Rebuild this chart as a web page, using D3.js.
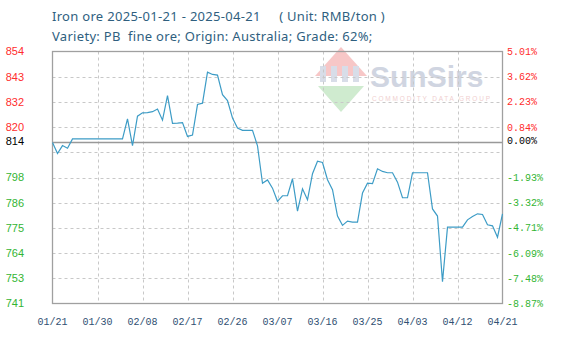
<!DOCTYPE html>
<html>
<head>
<meta charset="utf-8">
<script src="https://d3js.org/d3.v7.min.js"></script>
<style>
    body { margin: 0; background: #fff; }
    svg { display: block; }
    .title { font-family: "Noto Sans", sans-serif; font-size: 13px; letter-spacing: 0.3px; fill: #2f5f7f; white-space: pre; }
    .ylab { font-family: "Liberation Sans", sans-serif; font-size: 11px; }
    .rlab { font-family: "Liberation Mono", monospace; font-size: 10px; }
    .xlab { font-family: "Liberation Mono", monospace; font-size: 10px; fill: #2f5072; }
</style>
</head>
<body>
<svg id="chart"></svg>
<script>
    // --- data ---
    var BasePrice = 814;
    var StartDate = "2025-01-21";
    // one value per calendar day, 01/21 .. 04/21
    var Prices = [
        814, 809, 812.6, 811.4, 815.6, 815.6, 815.6, 815.6, 815.6, 815.6,
        815.6, 815.6, 815.6, 815.6, 815.6, 824.6, 812.6, 825.8, 827.3, 827.4,
        827.8, 829, 824, 835, 822.6, 822.7, 822.9, 816.7, 817.3, 831,
        831.6, 845.5, 844.5, 844.2, 835.4, 832.8, 825, 820.5, 819.4, 819.4,
        819.4, 812.5, 795.7, 797.2, 793.5, 787.6, 790.1, 790.1, 797.7, 783.2,
        793.2, 788.3, 800, 805.6, 805, 797.3, 792.8, 781, 776.8, 778.7,
        778.3, 778.3, 791.3, 795.7, 795.5, 802.2, 801, 800.4, 800.4, 796.2,
        789.2, 789.2, 800.4, 800.4, 800.4, 800.4, 784.2, 781, 751.6, 776,
        776, 776, 776, 779.3, 780.8, 782, 781.7, 777.1, 776.6, 771.5,
        782
    ];
    var YTop = 854.78, YBottom = 741.78;
    var LeftLabels  = ["854", "843", "832", "820", "", "798", "786", "775", "764", "753", "741"];
    var RightLabels = ["5.01%", "3.62%", "2.23%", "0.84%", "", "-1.93%", "-3.32%", "-4.71%", "-6.09%", "-7.48%", "-8.87%"];
    var XTicks = ["2025-01-21", "2025-01-30", "2025-02-08", "2025-02-17", "2025-02-26", "2025-03-07",
                  "2025-03-16", "2025-03-25", "2025-04-03", "2025-04-12", "2025-04-21"];

    var Width = 561, Height = 346;
    var Left = 52.5, Right = 502.5, Top = 51.5, Bottom = 303.5;

    var parse = d3.timeParse("%Y-%m-%d");
    var fmt = d3.timeFormat("%m/%d");
    var start = parse(StartDate);
    var series = Prices.map(function(v, i){ return { date: d3.timeDay.offset(start, i), value: v }; });

    var x = d3.scaleTime().domain([start, parse(XTicks[XTicks.length-1])]).range([Left, Right]);
    var y = d3.scaleLinear().domain([YBottom, YTop]).range([Bottom, Top]);

    var svg = d3.select("#chart").attr("width", Width).attr("height", Height);

    // watermark
    var wm = svg.append("g").attr("opacity", 0.55);
    wm.append("path").attr("d", "M315,76 L341,47 L367,76 Z").attr("fill", "#f29a9a");
    [0, 1, 2, 3].forEach(function(i){
        wm.append("rect").attr("x", 320 + i*11).attr("y", 66).attr("width", 6).attr("height", 16).attr("fill", "#b9c2d6");
    });
    wm.append("path").attr("d", "M318,86 L364,86 L341,112 Z").attr("fill", "#a9dca9");
    wm.append("text").attr("x", 370).attr("y", 87)
        .style("font-family", "'Liberation Sans', sans-serif").style("font-weight", "bold")
        .style("font-size", "30px").attr("fill", "#aab4ca").text("SunSirs");
    wm.append("text").attr("x", 372).attr("y", 101)
        .style("font-family", "'Liberation Sans', sans-serif").style("font-size", "6.5px")
        .attr("fill", "#e5a8a8").attr("textLength", 118).text("COMMODITY DATA GROUP");

    // grid
    var levels = d3.range(11).map(function(i){ return YTop - i*(YTop - YBottom)/10; });
    svg.append("g").selectAll("line").data(levels.slice(1, 10)).enter().append("line")
        .attr("x1", Left).attr("x2", Right)
        .attr("y1", function(d){ return Math.round(y(d)) + 0.5; })
        .attr("y2", function(d){ return Math.round(y(d)) + 0.5; })
        .attr("stroke", "#c8c8c8").attr("stroke-dasharray", "3,3");
    svg.append("g").selectAll("line").data(XTicks.slice(1, XTicks.length-1)).enter().append("line")
        .attr("x1", function(d){ return Math.round(x(parse(d))) + 0.5; })
        .attr("x2", function(d){ return Math.round(x(parse(d))) + 0.5; })
        .attr("y1", Top).attr("y2", Bottom)
        .attr("stroke", "#c8c8c8").attr("stroke-dasharray", "3,3");

    // base line
    svg.append("line").attr("x1", Left).attr("x2", Right)
        .attr("y1", Math.round(y(BasePrice)) + 0.5).attr("y2", Math.round(y(BasePrice)) + 0.5)
        .attr("stroke", "#999").attr("stroke-width", 1.3);

    // frame
    svg.append("rect").attr("x", Left).attr("y", Top).attr("width", Right - Left).attr("height", Bottom - Top)
        .attr("fill", "none").attr("stroke", "#a0a0a0").attr("stroke-width", 1.3);

    // price line
    svg.append("path").datum(series)
        .attr("fill", "none").attr("stroke", "#3d9cc6").attr("stroke-width", 1.2)
        .attr("d", d3.line().x(function(d){ return x(d.date); }).y(function(d){ return y(d.value); }));

    function labColor(i){ return i < 4 ? "#ff2d2d" : "#33b533"; }

    svg.append("g").selectAll("text").data(levels).enter().append("text")
        .attr("class", "ylab").attr("x", 24).attr("text-anchor", "end")
        .attr("y", function(d){ return y(d); }).attr("dy", "0.35em")
        .attr("fill", function(d, i){ return labColor(i); })
        .text(function(d, i){ return LeftLabels[i]; });
    svg.append("g").selectAll("text").data(levels).enter().append("text")
        .attr("class", "rlab").attr("x", 507)
        .attr("y", function(d){ return y(d); }).attr("dy", "0.35em")
        .attr("fill", function(d, i){ return labColor(i); })
        .text(function(d, i){ return RightLabels[i]; });
    svg.append("text").attr("class", "ylab").attr("x", 24).attr("text-anchor", "end")
        .attr("y", y(BasePrice)).attr("dy", "0.2em").attr("fill", "#000").text(BasePrice);
    svg.append("text").attr("class", "rlab").attr("x", 507)
        .attr("y", y(BasePrice)).attr("dy", "0.2em").attr("fill", "#000").text("0.00%");

    svg.append("g").selectAll("text").data(XTicks).enter().append("text")
        .attr("class", "xlab").attr("text-anchor", "middle")
        .attr("x", function(d){ return x(parse(d)); }).attr("y", 325)
        .text(function(d){ return fmt(parse(d)); });

    // titles
    svg.append("text").attr("class", "title").attr("x", 52).attr("y", 21)
        .text("Iron ore 2025-01-21 - 2025-04-21     ( Unit: RMB/ton )");
    svg.append("text").attr("class", "title").attr("x", 52).attr("y", 41)
        .text("Variety: PB  fine ore; Origin: Australia; Grade: 62%;");
</script>
</body>
</html>
